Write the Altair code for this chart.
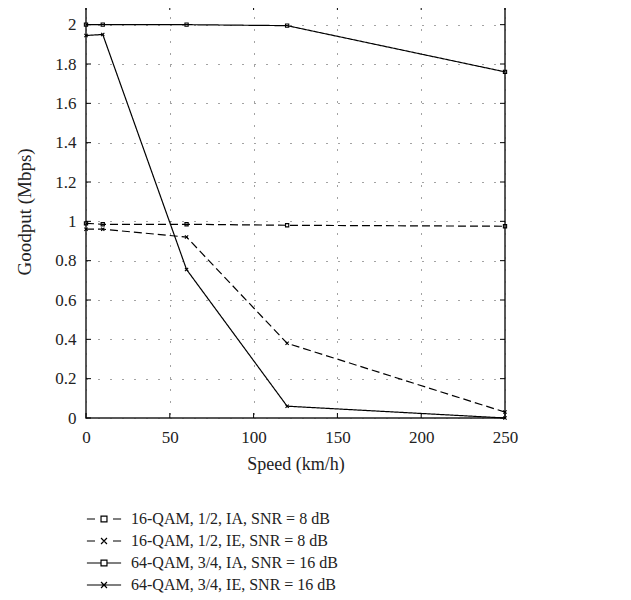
import altair as alt
import pandas as pd

series = [
    "16-QAM, 1/2, IA, SNR = 8 dB",
    "16-QAM, 1/2, IE, SNR = 8 dB",
    "64-QAM, 3/4, IA, SNR = 16 dB",
    "64-QAM, 3/4, IE, SNR = 16 dB",
]
speed = [0, 10, 60, 120, 250]
qam16_ia = [0.99, 0.985, 0.985, 0.98, 0.975]
qam16_ie = [0.96, 0.96, 0.92, 0.38, 0.03]
qam64_ia = [2.0, 2.0, 2.0, 1.995, 1.76]
qam64_ie = [1.945, 1.95, 0.755, 0.06, 0.0]

x_ticks = [0, 50, 100, 150, 200, 250]
y_ticks = [0, 0.2, 0.4, 0.6, 0.8, 1.0, 1.2, 1.4, 1.6, 1.8, 2.0]

rows = []
for name, vals in zip(series, [qam16_ia, qam16_ie, qam64_ia, qam64_ie]):
    for s, v in zip(speed, vals):
        rows.append({"series": name, "speed": s, "goodput": v})
df = pd.DataFrame(rows)

W, H = 419, 413
FONT = "Liberation Serif"

SQ = "M-0.5,-0.5H0.5V0.5H-0.5Z"
XM = "M-0.5,-0.5L0.5,0.5M-0.5,0.5L0.5,-0.5"
leg_paths = [
    "M-1.9,0H-1.0M1.0,0H1.9M-0.33,-0.33H0.33V0.33H-0.33Z",
    "M-1.9,0H-1.0M1.0,0H1.9M-0.33,-0.33L0.33,0.33M-0.33,0.33L0.33,-0.33",
    "M-1.9,0H-0.33M0.33,0H1.9M-0.33,-0.33H0.33V0.33H-0.33Z",
    "M-1.9,0H1.9M-0.33,-0.33L0.33,0.33M-0.33,0.33L0.33,-0.33",
]

xs = alt.Scale(domain=[0, 250], nice=False)
ys = alt.Scale(domain=[0, 2.1], nice=False)

base = alt.Chart(df)

lines = base.mark_line(color="black", strokeWidth=1.2, clip=False).encode(
    x=alt.X("speed:Q", scale=xs,
            axis=alt.Axis(values=x_ticks, title="Speed (km/h)", grid=True,
                          ticks=False, labelPadding=11, titlePadding=10,
                          labelFlush=False, titleFontSize=18, domain=False)),
    y=alt.Y("goodput:Q", scale=ys,
            axis=alt.Axis(values=y_ticks, title="Goodput (Mbps)", grid=True,
                          format="~g", ticks=False, labelPadding=10,
                          labelFlush=False, titleFontSize=19,
                          titlePadding=20, domain=False)),
    strokeDash=alt.StrokeDash("series:N",
                              scale=alt.Scale(domain=series,
                                              range=[[8, 4], [8, 4], [1, 0], [1, 0]]),
                              legend=None),
    detail="series:N",
)

points = base.mark_point(filled=False, color="black", strokeWidth=1.1, size=42,
                         opacity=1, clip=False).encode(
    x=alt.X("speed:Q", scale=xs),
    y=alt.Y("goodput:Q", scale=ys),
    shape=alt.Shape("series:N",
                    scale=alt.Scale(domain=series, range=[SQ, XM, SQ, XM]),
                    legend=None),
)

legend_layer = base.transform_filter("datum.speed < 0").mark_point(
    filled=False, color="black", opacity=1
).encode(
    x=alt.X("speed:Q", scale=xs),
    y=alt.Y("goodput:Q", scale=ys),
    shape=alt.Shape("series:N",
                    scale=alt.Scale(domain=series, range=leg_paths),
                    legend=alt.Legend(title=None, orient="none", legendX=8,
                                      legendY=504, symbolSize=324,
                                      symbolStrokeColor="black",
                                      symbolFillColor="transparent",
                                      symbolStrokeWidth=1.2,
                                      labelFont=FONT, labelFontSize=16,
                                      labelColor="#222",
                                      labelOffset=17, rowPadding=4,
                                      labelLimit=400)),
)

tick_top = alt.Chart(pd.DataFrame({"t": x_ticks})).mark_rule(color="black").encode(
    x=alt.X("t:Q", scale=xs), y=alt.value(0), y2=alt.value(5))
tick_bot = alt.Chart(pd.DataFrame({"t": x_ticks})).mark_rule(color="black").encode(
    x=alt.X("t:Q", scale=xs), y=alt.value(H), y2=alt.value(H - 5))
tick_left = alt.Chart(pd.DataFrame({"t": y_ticks})).mark_rule(color="black").encode(
    y=alt.Y("t:Q", scale=ys), x=alt.value(0), x2=alt.value(5))
tick_right = alt.Chart(pd.DataFrame({"t": y_ticks})).mark_rule(color="black").encode(
    y=alt.Y("t:Q", scale=ys), x=alt.value(W), x2=alt.value(W - 5))

chart = alt.layer(
    tick_top, tick_bot, tick_left, tick_right, lines, points, legend_layer
).resolve_scale(shape="independent").properties(
    width=W, height=H,
    padding={"left": 7, "top": -4, "right": 5, "bottom": 5},
).configure_view(
    stroke="#222", strokeWidth=1.5
).configure_axis(
    labelFont=FONT, labelFontSize=17, labelColor="#222",
    titleFont=FONT, titleColor="#222", titleFontWeight="normal",
    gridColor="#333", gridDash=[1, 11], gridWidth=1, gridOpacity=0.9,
)

chart.save("out.html", embed_options={"renderer": "svg", "actions": False})
